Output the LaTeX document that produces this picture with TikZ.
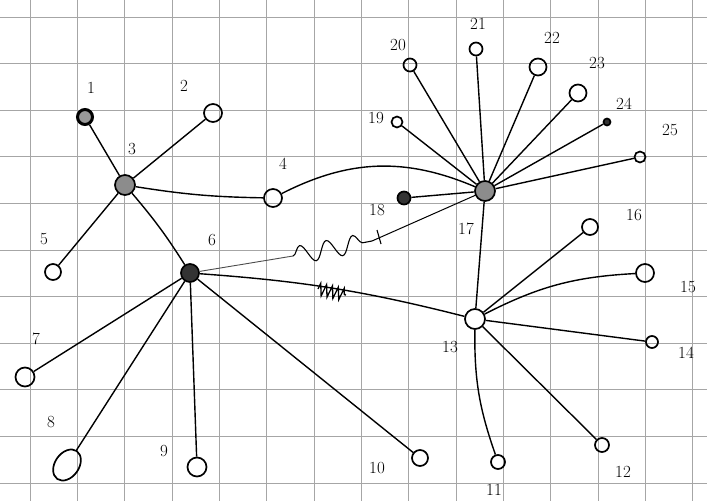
\documentclass[tikz,border=0pt]{standalone}
\usetikzlibrary{decorations.pathmorphing,shapes.geometric}
\begin{document}
\begin{tikzpicture}[x=1pt,y=-1pt,
  vtx/.style={circle,draw=black,line width=1.7pt,minimum size=16pt,inner sep=0pt},
  bigv/.style={vtx,minimum size=20pt},
  smallv/.style={vtx,minimum size=11pt},
  tinyv/.style={vtx,minimum size=7pt},
  darkv/.style={fill=black!80},
  midv/.style={fill=black!45},
  lbl/.style={font=\fontsize{17}{19}\selectfont,inner sep=0pt},
  edge/.style={line width=1.4pt,black},
  gridline/.style={line width=0.9pt,black!35}]
\useasboundingbox (0,0) rectangle (707,501);
\fill[white] (0,0) rectangle (707,501);
% grid
\foreach \i in {0,...,14} {\draw[gridline] ({30+47.35*\i},0) -- ({30+47.35*\i},501);}
\foreach \j in {0,...,10} {\draw[gridline] (0,{17+46.6*\j}) -- (707,{17+46.6*\j});}
% vertices
\node[vtx,minimum size=15pt,line width=3pt,fill=black!40] (n1) at (85,117) {};
\node[vtx,minimum size=18pt] (n2) at (213,113) {};
\node[bigv,midv] (n3) at (125,185) {};
\node[vtx,minimum size=18pt] (n4) at (273,198) {};
\node[vtx] (n5) at (53,272) {};
\node[vtx,darkv,minimum size=18pt] (n6) at (190,273) {};
\node[vtx,minimum size=19pt] (n7) at (25,377) {};
\node[ellipse,draw,line width=1.7pt,minimum width=24pt,minimum height=34pt,rotate=-35,inner sep=0pt] (n8) at (67,465) {};
\node[vtx,minimum size=19pt] (n9) at (197,467) {};
\node[vtx] (n10) at (420,458) {};
\node[vtx,minimum size=14pt] (n11) at (498,462) {};
\node[vtx,minimum size=14pt] (n12) at (602,445) {};
\node[vtx,minimum size=20pt] (n13) at (475,319) {};
\node[vtx,minimum size=12pt] (n14) at (652,342) {};
\node[vtx,minimum size=18pt] (n15) at (645,273) {};
\node[vtx] (n16) at (590,227) {};
\node[bigv,midv] (n17) at (485,191) {};
\node[vtx,darkv,minimum size=13pt] (n18) at (404,198) {};
\node[smallv] (n19) at (397,122) {};
\node[vtx,minimum size=13pt] (n20) at (410,65) {};
\node[vtx,minimum size=13pt] (n21) at (476,49) {};
\node[vtx,minimum size=17pt] (n22) at (538,67) {};
\node[vtx,minimum size=17pt] (n23) at (578,93) {};
\node[tinyv,darkv] (n24) at (607,122) {};
\node[smallv] (n25) at (640,157) {};
% labels
\node[lbl] (l1) at (91,88) {1};
\node[lbl] (l2) at (184,86) {2};
\node[lbl] (l3) at (132,149) {3};
\node[lbl] (l4) at (283,164) {4};
\node[lbl] (l5) at (44,239) {5};
\node[lbl] (l6) at (212,240) {6};
\node[lbl] (l7) at (36,339) {7};
\node[lbl] (l8) at (51,422) {8};
\node[lbl] (l9) at (164,451) {9};
\node[lbl] (l10) at (377,468) {10};
\node[lbl] (l11) at (494,490) {11};
\node[lbl] (l12) at (623,472) {12};
\node[lbl] (l13) at (450,347) {13};
\node[lbl] (l14) at (686,353) {14};
\node[lbl] (l15) at (688,287) {15};
\node[lbl] (l16) at (634,215) {16};
\node[lbl] (l17) at (466,229) {17};
\node[lbl] (l18) at (377,210) {18};
\node[lbl] (l19) at (376,118) {19};
\node[lbl] (l20) at (398,45) {20};
\node[lbl] (l21) at (478,24) {21};
\node[lbl] (l22) at (552,38) {22};
\node[lbl] (l23) at (597,63) {23};
\node[lbl] (l24) at (624,104) {24};
\node[lbl] (l25) at (670,130) {25};
% edges
\draw[edge] (n1) -- (n3);
\draw[edge] (n2) -- (n3);
\draw[edge] (n3) to[bend right=4] (n4);
\draw[edge] (n3) -- (n5);
\draw[edge] (n3) to[bend left=4] (n6);
\draw[edge] (n4) to[bend left=25] (n17);
\draw[edge] (n6) -- (n7);
\draw[edge] (n6) -- (n8);
\draw[edge] (n6) -- (n9);
\draw[edge] (n6) -- (n10);
\draw[edge] (n6) to[bend left=5] (n13);
\draw[edge] (n13) -- (n17);
\draw[edge] (n13) to[bend right=10] (n11);
\draw[edge] (n13) -- (n12);
\draw[edge] (n13) -- (n14);
\draw[edge] (n13) to[bend left=12] (n15);
\draw[edge] (n13) -- (n16);
\foreach \k in {18,...,25} {\draw[edge] (n17) -- (n\k);}
% wavy edge 6 -- 17
\coordinate (wa) at (293,256);
\coordinate (wb) at (372,241);
\draw[edge,line width=0.9pt,black!70] (n6) -- (wa);
\draw[edge,line width=1.1pt,decorate,decoration={snake,amplitude=9pt,segment length=27pt}] (wa) -- (wb);
\draw[edge,line width=1pt] (wb) -- (n17);
\coordinate (tk1) at (377,230);
\coordinate (tk2) at (381,244);
\draw[edge,line width=1.1pt] (tk1) -- (tk2);
% scribble on edge 6 -- 13
\coordinate (za) at (318,289);
\coordinate (zb) at (346,295);
\draw[edge,line width=1.3pt,decorate,decoration={zigzag,amplitude=6pt,segment length=6pt}] (za) -- (zb);
\end{tikzpicture}
\end{document}
